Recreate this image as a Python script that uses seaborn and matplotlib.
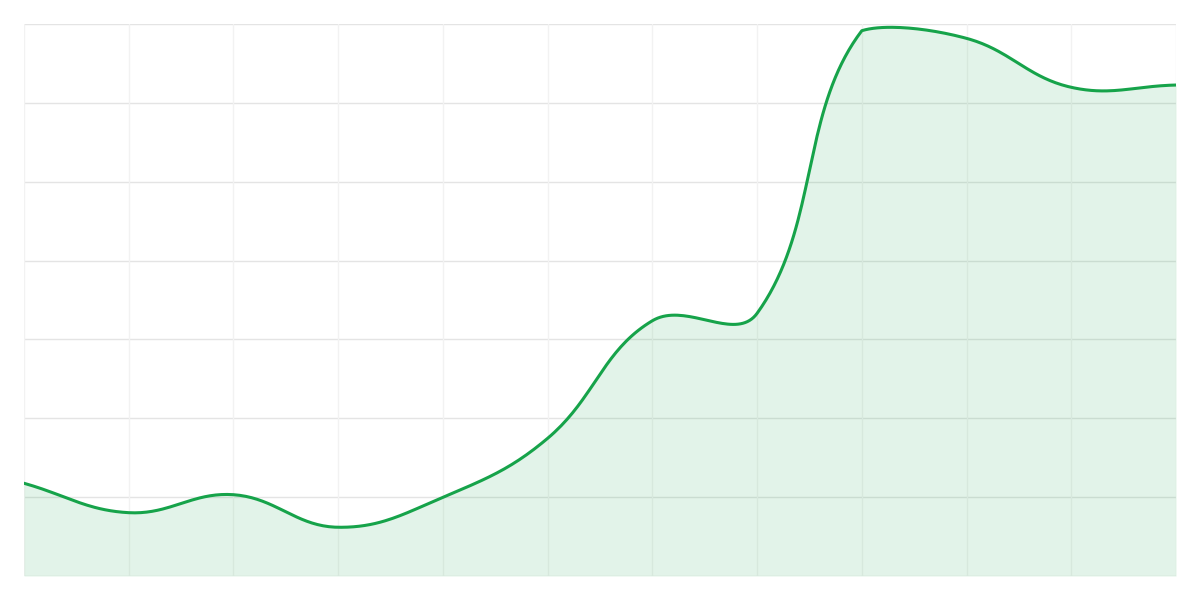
import numpy as np
import pandas as pd
import matplotlib
matplotlib.use("Agg")
import matplotlib.pyplot as plt
import seaborn as sns

# values (one per vertical grid line)
labels = list(range(12))
values = [11.76, 8.03, 10.31, 6.18, 9.98, 17.46, 32.37, 33.31, 69.15, 68.18, 61.97, 62.26]
y_ticks = [0, 10, 20, 30, 40, 50, 60, 70]

LINE = "#16a34a"
TENSION = 0.4

sns.set_theme(style="white")
fig = plt.figure(figsize=(12, 6), dpi=100)
ax = fig.add_axes([0.02, 0.04, 0.96, 0.92])
ax.set_xlim(labels[0], labels[-1])
ax.set_ylim(y_ticks[0], y_ticks[-1])


def smooth_path(ax, xs, ys, tension=0.4, n=40):
    # cubic bezier through the points, control points like a tension spline,
    # worked out in pixel space and clamped to the plot area
    pts = ax.transData.transform(np.column_stack([xs, ys]))
    (x0, y0), (x1, y1) = ax.transData.transform([[xs[0], y_ticks[0]], [xs[-1], y_ticks[-1]]])
    m = len(pts)
    cp_in = np.zeros_like(pts)
    cp_out = np.zeros_like(pts)
    for i in range(m):
        prev = pts[max(i - 1, 0)]
        cur = pts[i]
        nxt = pts[min(i + 1, m - 1)]
        d01 = np.hypot(*(cur - prev))
        d12 = np.hypot(*(nxt - cur))
        tot = d01 + d12
        s01 = d01 / tot if tot else 0
        s12 = d12 / tot if tot else 0
        cp_in[i] = cur - tension * s01 * (nxt - prev)
        cp_out[i] = cur + tension * s12 * (nxt - prev)
    for cp in (cp_in, cp_out):
        cp[:, 0] = np.clip(cp[:, 0], x0, x1)
        cp[:, 1] = np.clip(cp[:, 1], y0, y1)
    t = np.linspace(0, 1, n)[:, None]
    segs = []
    for i in range(m - 1):
        p0, p1, p2, p3 = pts[i], cp_out[i], cp_in[i + 1], pts[i + 1]
        seg = ((1 - t) ** 3) * p0 + 3 * ((1 - t) ** 2) * t * p1 + 3 * (1 - t) * t ** 2 * p2 + t ** 3 * p3
        segs.append(seg if i == 0 else seg[1:])
    curve = ax.transData.inverted().transform(np.vstack(segs))
    return curve[:, 0], curve[:, 1]


sx, sy = smooth_path(ax, labels, values, TENSION)
df = pd.DataFrame({"x": sx, "y": sy})

# grid
for y in y_ticks:
    ax.axhline(y, color="#e4e4e4", lw=1, zorder=0)
for x in labels:
    ax.axvline(x, color="#f2f2f2", lw=1, zorder=0)

ax.fill_between(df["x"], df["y"], 0, color=LINE, alpha=0.12, lw=0, zorder=1)
sns.lineplot(data=df, x="x", y="y", sort=False, color=LINE, lw=2.2, ax=ax, zorder=2)

ax.set_xticks([])
ax.set_yticks([])
ax.set_xlabel("")
ax.set_ylabel("")
for s in ax.spines.values():
    s.set_visible(False)

fig.savefig("out.png", dpi=100, facecolor="white")
